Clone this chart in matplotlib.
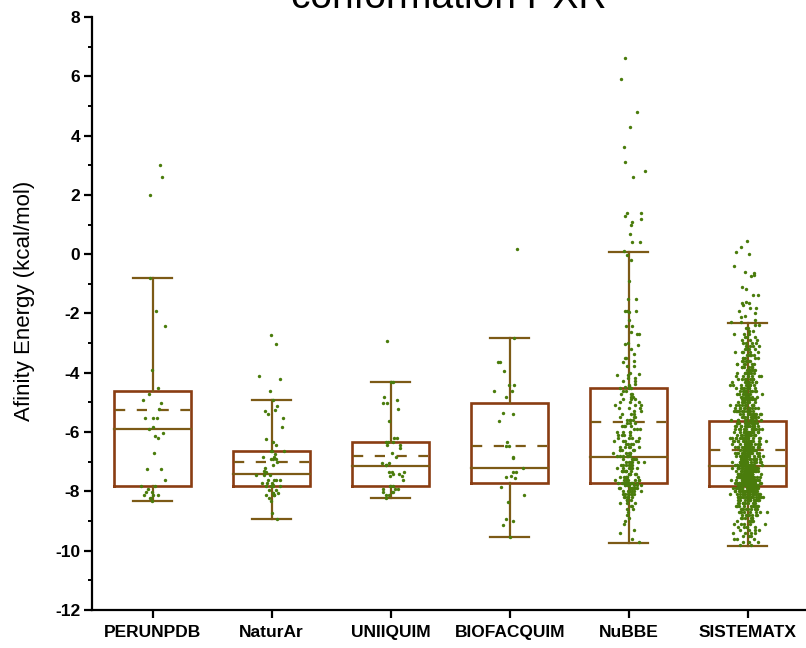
import numpy as np
import matplotlib
matplotlib.use("Agg")
import matplotlib.pyplot as plt

# ---------------- data ----------------
categories = ["PERUNPDB", "NaturAr", "UNIIQUIM", "BIOFACQUIM", "NuBBE", "SISTEMATX"]

# box statistics
whisker_hi = [-0.80, -4.91, -4.31, -2.82, 0.08, -2.32]
q3 = [-4.60, -6.63, -6.34, -5.01, -4.52, -5.62]
mean = [-5.27, -7.02, -6.81, -6.47, -5.66, -6.59]
median = [-5.91, -7.41, -7.13, -7.22, -6.83, -7.13]
q1 = [-7.83, -7.82, -7.81, -7.73, -7.73, -7.82]
whisker_lo = [-8.32, -8.93, -8.23, -9.53, -9.73, -9.83]

perunpdb_pts = [3.00, 2.59, 2.00, -0.80, -1.92, -2.41, -3.92, -4.51, -4.73, -4.92, -5.02, -5.22,
                -5.51, -5.51, -5.51, -5.82, -5.91, -6.02, -6.12, -6.21, -6.72, -7.23, -7.23,
                -7.63, -7.83, -7.83, -7.93, -8.01, -8.01, -8.12, -8.12, -8.12, -8.23, -8.23, -8.33]

naturar_pts = [-2.72, -3.02, -4.12, -4.22, -4.61, -4.91, -5.13, -5.25, -5.30, -5.40, -5.52, -5.82,
               -6.22, -6.32, -6.42, -6.63, -6.63, -6.63, -6.73, -6.83, -6.83, -6.92, -6.92, -6.92,
               -7.02, -7.12, -7.22, -7.32, -7.36, -7.36, -7.45, -7.45, -7.45, -7.62, -7.62, -7.62,
               -7.62, -7.73, -7.73, -7.73, -7.78, -7.82, -7.82, -7.82, -7.82, -7.95, -7.95, -8.04,
               -8.04, -8.04, -8.12, -8.12, -8.12, -8.22, -8.32, -8.74, -8.92]

uniiquim_pts = [-2.92, -4.31, -4.31, -4.83, -4.92, -5.02, -5.02, -5.22, -5.62, -6.21, -6.21, -6.34,
                -6.34, -6.34, -6.42, -6.42, -6.52, -6.72, -6.83, -7.03, -7.03, -7.12, -7.12, -7.33,
                -7.33, -7.33, -7.41, -7.41, -7.49, -7.49, -7.63, -7.82, -7.82, -7.92, -7.92, -7.92,
                -8.02, -8.02, -8.02, -8.12, -8.12, -8.22]

biofacquim_pts = [0.19, -2.82, -3.63, -3.63, -3.93, -4.42, -4.42, -4.62, -4.62, -4.83, -5.36, -5.40,
                  -5.62, -6.32, -6.47, -6.47, -6.84, -6.88, -7.22, -7.35, -7.35, -7.48, -7.51, -7.54,
                  -7.84, -8.12, -8.35, -8.93, -9.01, -9.14, -9.53]

nubbe_sparse = [6.62, 5.91, 4.81, 4.29, 3.61, 3.10, 2.80, 2.59, 1.40, 1.40, 1.30, 1.20, 1.09, 1.00,
                0.69, 0.40, 0.40, 0.10, -0.02, -0.21, -0.90, -1.51, -1.51, -1.92, -1.92, -1.92,
                -1.95, -2.22, -2.41, -2.41, -2.62, -2.70, -2.70, -3.00, -3.02, -3.07, -3.19, -3.38,
                -3.49, -3.49, -3.60, -3.62, -3.77, -3.77, -4.00, -4.05, -4.07, -4.07, -4.17, -4.19,
                -4.27, -4.28, -4.39, -4.42, -4.45, -4.48]
# dense part: value (kcal/mol) -> number of dots, read as a 0.1 kcal/mol histogram
nubbe_dense_vals = [-4.5, -4.6, -4.7, -4.8, -4.9, -5.0, -5.1, -5.2, -5.3, -5.4, -5.5, -5.6, -5.7,
                    -5.8, -5.9, -6.0, -6.1, -6.2, -6.3, -6.4, -6.5, -6.6, -6.7, -6.8, -6.9, -7.0,
                    -7.1, -7.2, -7.3, -7.4, -7.5, -7.6, -7.7, -7.8, -7.9, -8.0, -8.1, -8.2, -8.3,
                    -8.4, -8.5, -8.6, -8.7, -8.8, -8.9, -9.0, -9.1, -9.2, -9.3, -9.4, -9.5, -9.6,
                    -9.7]
nubbe_dense_cnt = [3, 2, 3, 2, 3, 3, 3, 3, 2, 3, 3, 4, 3, 4, 3, 4, 4, 4, 5, 4, 5, 5, 5, 6, 5, 6,
                   6, 6, 7, 6, 7, 8, 9, 9, 8, 7, 6, 5, 4, 3, 2, 2, 1, 1, 1, 1, 1, 0, 1, 1, 0, 1, 1]

sist_sparse = [0.46, 0.23, 0.07, 0.00, -0.41, -0.60, -0.62, -0.70, -0.75, -1.12, -1.18, -1.39,
               -1.39, -1.60, -1.63, -1.66, -1.73, -1.83, -1.83, -1.92, -1.97, -2.08, -2.12,
               -2.22, -2.28]
sist_dense_vals = [-2.3, -2.4, -2.5, -2.6, -2.7, -2.8, -2.9, -3.0, -3.1, -3.2, -3.3, -3.4, -3.5,
                   -3.6, -3.7, -3.8, -3.9, -4.0, -4.1, -4.2, -4.3, -4.4, -4.5, -4.6, -4.7, -4.8,
                   -4.9, -5.0, -5.1, -5.2, -5.3, -5.4, -5.5, -5.6, -5.7, -5.8, -5.9, -6.0, -6.1,
                   -6.2, -6.3, -6.4, -6.5, -6.6, -6.7, -6.8, -6.9, -7.0, -7.1, -7.2, -7.3, -7.4,
                   -7.5, -7.6, -7.7, -7.8, -7.9, -8.0, -8.1, -8.2, -8.3, -8.4, -8.5, -8.6, -8.7,
                   -8.8, -8.9, -9.0, -9.1, -9.2, -9.3, -9.4, -9.5, -9.6, -9.7, -9.8]
sist_dense_cnt = [1, 2, 2, 2, 3, 3, 3, 4, 4, 4, 5, 5, 5, 6, 6, 6, 7, 7, 7, 8, 8, 8, 9, 9, 9, 10,
                  10, 10, 11, 11, 12, 12, 13, 13, 13, 14, 14, 15, 15, 15, 16, 16, 17, 17, 18, 18,
                  19, 20, 21, 24, 26, 28, 30, 32, 32, 32, 28, 24, 20, 17, 14, 12, 10, 9, 8, 7, 6,
                  6, 5, 5, 4, 4, 3, 3, 3, 2]

points = [
    np.array(perunpdb_pts),
    np.array(naturar_pts),
    np.array(uniiquim_pts),
    np.array(biofacquim_pts),
    np.concatenate([nubbe_sparse, np.repeat(nubbe_dense_vals, nubbe_dense_cnt)]),
    np.concatenate([sist_sparse, np.repeat(sist_dense_vals, sist_dense_cnt)]),
]
jitter_width = [0.12, 0.12, 0.12, 0.12, 0.13, 0.14]

# ---------------- style ----------------
BOX_C = "#8a3d12"
LINE_C = "#7c5a16"
DOT_C = "#4a7c0c"

plt.rcParams["font.family"] = ["Liberation Sans", "DejaVu Sans"]

fig = plt.figure(figsize=(8.06, 6.48), dpi=100)
ax = fig.add_axes([92 / 806, 38 / 648, (806 - 92) / 806, (610 - 17) / 648])


def _hash(k, seed):
    v = np.sin(k * 12.9898 + seed * 78.233) * 43758.5453
    return v - np.floor(v)


def jitter(n, w, seed):
    # deterministic horizontal spread (position only), bell-shaped within [-w, w]
    k = np.arange(n, dtype=float) + 1.0
    u = (_hash(k, seed) + _hash(k, seed + 1.7) + _hash(k, seed + 3.1)) / 3.0
    return w * 2.0 * (u - 0.5) * 1.2


half_box = 0.325
half_cap = 0.165
lw = 1.6
for i in range(len(categories)):
    x = i + 1
    # box
    ax.plot([x - half_box, x + half_box, x + half_box, x - half_box, x - half_box],
            [q1[i], q1[i], q3[i], q3[i], q1[i]], color=BOX_C, lw=lw + 0.3,
            solid_joinstyle="miter", zorder=2)
    # whiskers
    ax.plot([x, x], [q3[i], whisker_hi[i]], color=LINE_C, lw=lw, zorder=2)
    ax.plot([x, x], [q1[i], whisker_lo[i]], color=LINE_C, lw=lw, zorder=2)
    ax.plot([x - half_cap, x + half_cap], [whisker_hi[i]] * 2, color=LINE_C, lw=lw, zorder=2)
    ax.plot([x - half_cap, x + half_cap], [whisker_lo[i]] * 2, color=LINE_C, lw=lw, zorder=2)
    # median
    ax.plot([x - half_box, x + half_box], [median[i]] * 2, color=LINE_C, lw=lw, zorder=2)
    # mean (dashed)
    ax.plot([x - half_box + 0.01, x + half_box - 0.01], [mean[i]] * 2, color=LINE_C, lw=lw,
            linestyle=(0, (4.6, 5.2)), dash_capstyle="butt", zorder=2)
    # points
    y = points[i]
    ax.scatter(x + jitter(len(y), jitter_width[i], i + 1), y, s=6,
               color=DOT_C, linewidths=0, zorder=3)

ax.set_xlim(0.49, 6.49)
ax.set_ylim(-12, 8)
ax.set_xticks(range(1, 7))
ax.set_xticklabels(categories, fontweight="bold", fontsize=12.5)
ax.set_yticks(np.arange(-12, 9, 2))
ax.set_yticks(np.arange(-11, 8, 2), minor=True)
ax.set_yticklabels([str(v) for v in range(-12, 9, 2)], fontweight="bold", fontsize=12.5)

for s in ["top", "right"]:
    ax.spines[s].set_visible(False)
for s in ["left", "bottom"]:
    ax.spines[s].set_linewidth(1.6)

ax.tick_params(axis="y", which="major", direction="out", length=5.5, width=1.6, pad=3)
ax.tick_params(axis="y", which="minor", direction="out", length=3, width=1.4)
ax.tick_params(axis="x", which="major", direction="out", length=6, width=1.6, pad=5)
ax.tick_params(axis="x", which="minor", bottom=False)

fig.text(25 / 806, 1 - 301 / 648, "Afinity Energy (kcal/mol)", rotation=90,
         ha="center", va="center", fontsize=16)
fig.text(449 / 806, 1 - 8 / 648, "conformation PXR", ha="center", va="baseline", fontsize=28)

fig.savefig("out.png", dpi=100)
